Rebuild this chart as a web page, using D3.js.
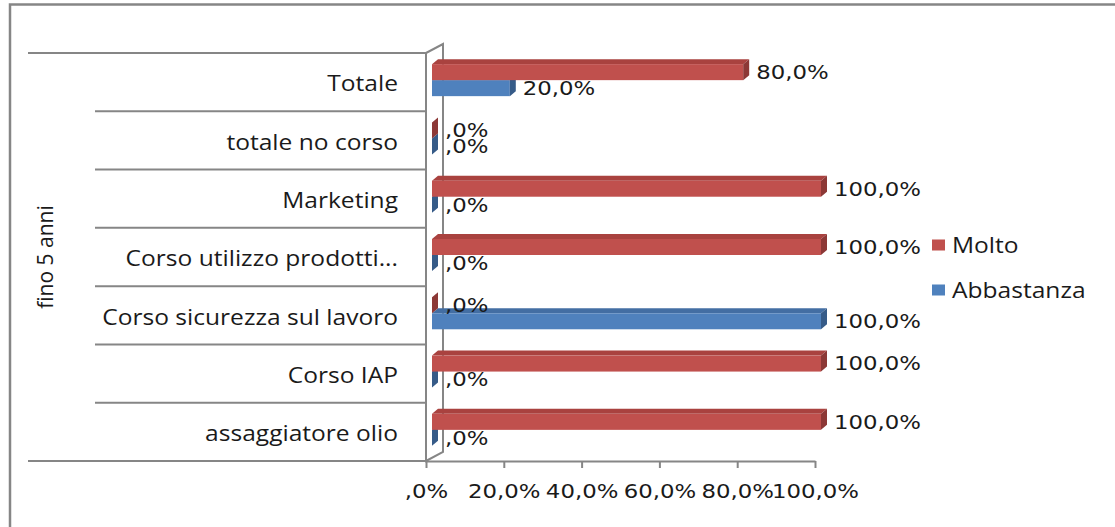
<!DOCTYPE html>
<html>
<head>
<meta charset="utf-8">
<title>fino 5 anni</title>
<script src="https://cdn.jsdelivr.net/npm/d3@7"></script>
<style>
  body { margin: 0; background: #fff; }
  .cat, .legend text, .group { font-family: "Open Sans", sans-serif; font-size: 21px; fill: #1a1a1a; }
  .val, .tick text { font-family: "DejaVu Sans", sans-serif; font-size: 19.5px; fill: #1a1a1a; }
</style>
</head>
<body>
<div id="chart"></div>
<script>
// data
var categories = ["Totale", "totale no corso", "Marketing", "Corso utilizzo prodotti...",
                  "Corso sicurezza sul lavoro", "Corso IAP", "assaggiatore olio"];
var molto      = [80, 0, 100, 100, 0, 100, 100];
var abbastanza = [20, 0, 0, 0, 100, 0, 0];
var tickValues = [0, 20, 40, 60, 80, 100];
var seriesNames = ["Molto", "Abbastanza"];
var groupLabel = "fino 5 anni";

var width = 1115, height = 527;
var grey = "#868686";
var sx = 1.17;          // the picture is a bit wider than tall
var depth = 6;          // 3d offset of the bars
var red  = {front: "#c0504d", top: "#a9423f", side: "#8c3836"};
var blue = {front: "#4f81bd", top: "#436ea3", side: "#365b88"};

var fmt = function(v) {
  var s = v.toFixed(1).replace(".", ",");
  if (s.indexOf("0,") === 0) s = s.slice(1);
  return s + "%";
};

var svg = d3.select("#chart").append("svg")
  .attr("width", width).attr("height", height);

svg.append("rect").attr("width", width).attr("height", height).attr("fill", "#fff");

// outer frame: only top and left edges are visible
svg.append("path")
  .attr("d", "M10,527 V4.5 H1115")
  .attr("fill", "none").attr("stroke", grey).attr("stroke-width", 2.5);

var x = d3.scaleLinear().domain([0, 100]).range([426, 815]);
var y = d3.scaleBand().domain(categories).range([53, 461]);

// category grid lines on the left
var bounds = categories.map(function(c) { return y(c); }).concat([y.range()[1]]);
svg.selectAll(".grid").data(bounds).enter().append("line")
  .attr("x1", function(d, i) { return (i === 0 || i === bounds.length - 1) ? 28 : 95; })
  .attr("x2", 426)
  .attr("y1", function(d) { return d; }).attr("y2", function(d) { return d; })
  .attr("stroke", grey).attr("stroke-width", 2);

// 3d walls
var wx = 17, wy = 9;
svg.append("path")
  .attr("d", "M426," + y.range()[0] + " L" + (426 + wx) + "," + (y.range()[0] - wy) +
             " V" + (y.range()[1] - wy) + " L426," + y.range()[1] + " V" + y.range()[0])
  .attr("fill", "none").attr("stroke", grey).attr("stroke-width", 2);

// x axis
var axis = svg.append("g")
  .attr("transform", "translate(0," + y.range()[1] + ")")
  .call(d3.axisBottom(x).tickValues(tickValues).tickFormat(fmt).tickSize(7).tickSizeOuter(0));
axis.select(".domain").attr("stroke", grey).attr("stroke-width", 2);
axis.selectAll(".tick line").attr("stroke", grey).attr("stroke-width", 2);
axis.selectAll(".tick text").attr("y", 30).attr("dy", "0.35em")
  .attr("transform", "scale(" + sx + ",1)").attr("fill", "#1a1a1a");

function bar3d(g, v, yTop, h, col) {
  var x0 = x(0) + depth, x1 = x(v) + depth;
  if (x1 > x0) {
    g.append("polygon")
      .attr("points", [[x0, yTop], [x1, yTop], [x1 + depth, yTop - 5], [x0 + depth, yTop - 5]].join(" "))
      .attr("fill", col.top);
    g.append("rect").attr("x", x0).attr("y", yTop).attr("width", x1 - x0).attr("height", h)
      .attr("fill", col.front);
  }
  g.append("polygon")
    .attr("points", [[x1, yTop], [x1 + depth, yTop - 5], [x1 + depth, yTop + h - 5], [x1, yTop + h]].join(" "))
    .attr("fill", col.side);
  g.append("g")
    .attr("transform", "translate(" + (x1 + depth + 7) + "," + (yTop + h / 2) + ") scale(" + sx + ",1)")
    .append("text").attr("class", "val").attr("dy", "0.35em").text(fmt(v));
}

var bars = svg.append("g");
categories.forEach(function(c, i) {
  var cy = y(c) + y.bandwidth() / 2;
  var row = bars.append("g");
  bar3d(row, abbastanza[i], cy - 2, 16, blue);
  bar3d(row, molto[i], cy - 18, 16, red);
});
// keep labels above the bars
bars.selectAll(".val").each(function() { svg.node().appendChild(this.parentNode); });

// category labels
categories.forEach(function(c) {
  svg.append("g")
    .attr("transform", "translate(398," + (y(c) + y.bandwidth() / 2 + 2) + ") scale(" + sx + ",1)")
    .append("text").attr("class", "cat").attr("text-anchor", "end").attr("dy", "0.35em").text(c);
});

// group label
svg.append("text").attr("class", "group")
  .attr("transform", "translate(46," + ((y.range()[0] + y.range()[1]) / 2) + ") rotate(-90)")
  .attr("text-anchor", "middle").attr("dy", "0.35em").text(groupLabel);

// legend
var legendColors = [red.front, blue.front];
var legend = svg.selectAll(".legend").data(seriesNames).enter().append("g")
  .attr("class", "legend")
  .attr("transform", function(d, i) { return "translate(932," + (245 + i * 45) + ")"; });
legend.append("rect").attr("x", 0).attr("y", -5.5).attr("width", 13).attr("height", 11)
  .attr("fill", function(d, i) { return legendColors[i]; });
legend.append("g").attr("transform", "translate(20,1) scale(" + sx + ",1)")
  .append("text").attr("dy", "0.35em").text(function(d) { return d; });
</script>
</body>
</html>
